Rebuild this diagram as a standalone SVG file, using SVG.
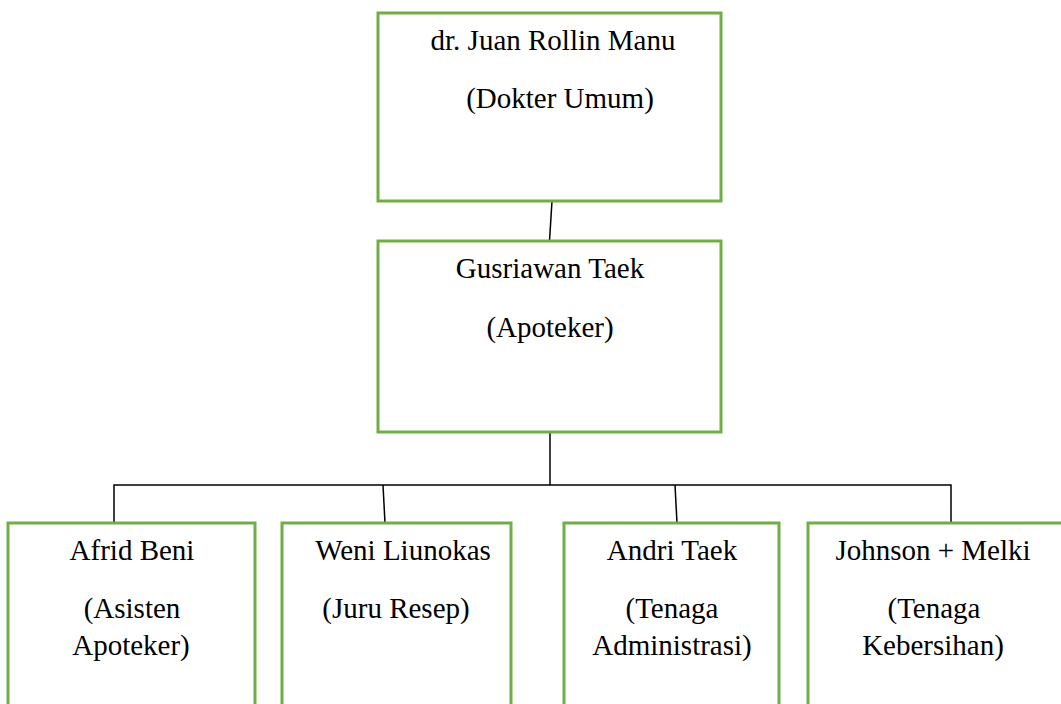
<svg xmlns="http://www.w3.org/2000/svg" width="1061" height="704" viewBox="0 0 1061 704">
<style>
.box{fill:#fff;stroke:#70AD47;stroke-width:3}
text{font-family:'Liberation Serif','DejaVu Serif',serif;font-size:29px;fill:#000;text-anchor:middle}
.c{stroke:#000;stroke-width:1.5;fill:none}
</style>
<rect width="1061" height="704" fill="#fff"/>
<g id="connectors">
<line class="c" x1="552" y1="201" x2="549.5" y2="241"/>
<line class="c" x1="550" y1="432" x2="550" y2="485"/>
<polyline class="c" points="114,523 114,485 951,485 951,523"/>
<line class="c" x1="383" y1="485" x2="385" y2="523"/>
<line class="c" x1="675" y1="485" x2="677" y2="523"/>
</g>
<g id="n-dokter" font-family="Liberation Serif">
<rect class="box" x="378" y="13" width="343" height="188"/>
<text x="553" y="50">dr. Juan Rollin Manu</text>
<text x="560" y="108">(Dokter Umum)</text>
</g>
<g id="n-apoteker">
<rect class="box" x="378" y="241" width="343" height="191"/>
<text x="550" y="278">Gusriawan Taek</text>
<text x="550" y="337">(Apoteker)</text>
</g>
<g id="n-asisten">
<rect class="box" x="8" y="523" width="247" height="200"/>
<text x="132" y="560">Afrid Beni</text>
<text x="132" y="618">(Asisten</text>
<text x="131" y="655">Apoteker)</text>
</g>
<g id="n-juru">
<rect class="box" x="282" y="523" width="229" height="200"/>
<text x="403" y="560">Weni Liunokas</text>
<text x="396" y="618">(Juru Resep)</text>
</g>
<g id="n-admin">
<rect class="box" x="564" y="523" width="215" height="200"/>
<text x="672" y="560">Andri Taek</text>
<text x="672" y="618">(Tenaga</text>
<text x="672" y="655">Administrasi)</text>
</g>
<g id="n-kebersihan">
<rect class="box" x="808" y="523" width="270" height="200"/>
<text x="933" y="560">Johnson + Melki</text>
<text x="934" y="618">(Tenaga</text>
<text x="933" y="655">Kebersihan)</text>
</g>
</svg>
